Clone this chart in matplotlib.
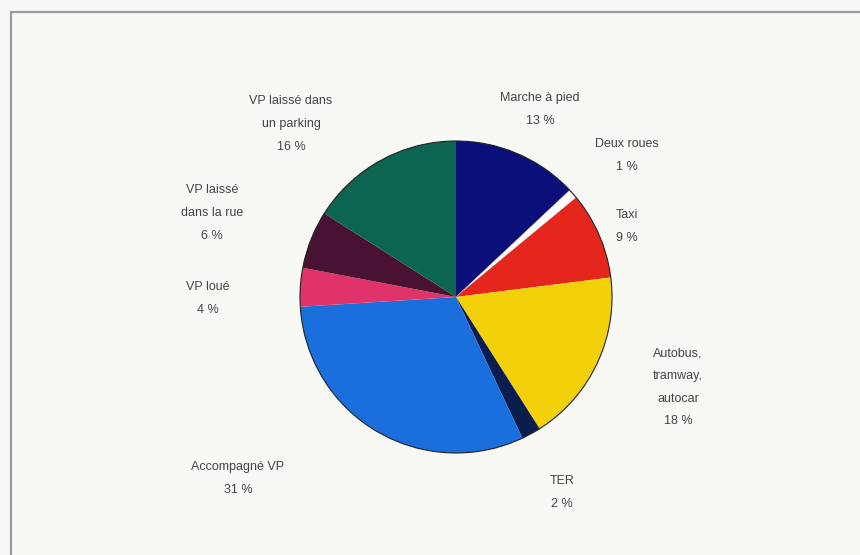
import matplotlib
matplotlib.use('Agg')
import matplotlib.pyplot as plt
from matplotlib.patches import Rectangle, Circle

# data
labels = ['Marche à pied', 'Deux roues', 'Taxi', 'Autobus,\ntramway,\nautocar', 'TER',
          'Accompagné VP', 'VP loué', 'VP laissé\ndans la rue', 'VP laissé dans\nun parking']
shares = [13, 1, 9, 18, 2, 31, 4, 6, 16]
colors = ['#0b0f7a', '#ffffff', '#e4261c', '#f2d10a', '#0b1d4e',
          '#1b6fdd', '#e0336a', '#4a1232', '#0b6550']

# label centres in pixels (x, first line y)
label_pos = [(540, 97), (627, 143), (627, 214), (678, 352), (562, 480),
             (238, 466), (208, 286), (212, 189), (291, 100)]

W, H = 860, 555
fig = plt.figure(figsize=(8.6, 5.55), dpi=100)
fig.patch.set_facecolor('#f8f8f5')
ax = fig.add_axes([0, 0, 1, 1])
ax.set_xlim(0, W)
ax.set_ylim(0, H)
ax.set_aspect('equal')
ax.axis('off')

cx, cy, r = 456, H - 297, 156

wedges, _ = ax.pie(shares, colors=colors, startangle=90, counterclock=False,
                   center=(cx, cy), radius=r, frame=True,
                   wedgeprops=dict(linewidth=0))
wedges[1].set_edgecolor('#b0b0b0')
wedges[1].set_linewidth(0.4)
ax.add_patch(Circle((cx, cy), r, fill=False, edgecolor='#222222', linewidth=0.8))
ax.set_xlim(0, W)
ax.set_ylim(0, H)
ax.axis('off')

# outer frame
ax.add_patch(Rectangle((11, -20), W + 20, H - 12 + 20, fill=False,
                       edgecolor='#9c9c9c', linewidth=1.6))

for lab, sh, (x, y) in zip(labels, shares, label_pos):
    ax.text(x, H - y + 5, lab + '\n' + str(sh) + ' %', ha='center', va='top',
            fontsize=9, family='Liberation Sans', color='#444444', linespacing=2.2)

plt.savefig('out.png', dpi=100, facecolor=fig.get_facecolor())
